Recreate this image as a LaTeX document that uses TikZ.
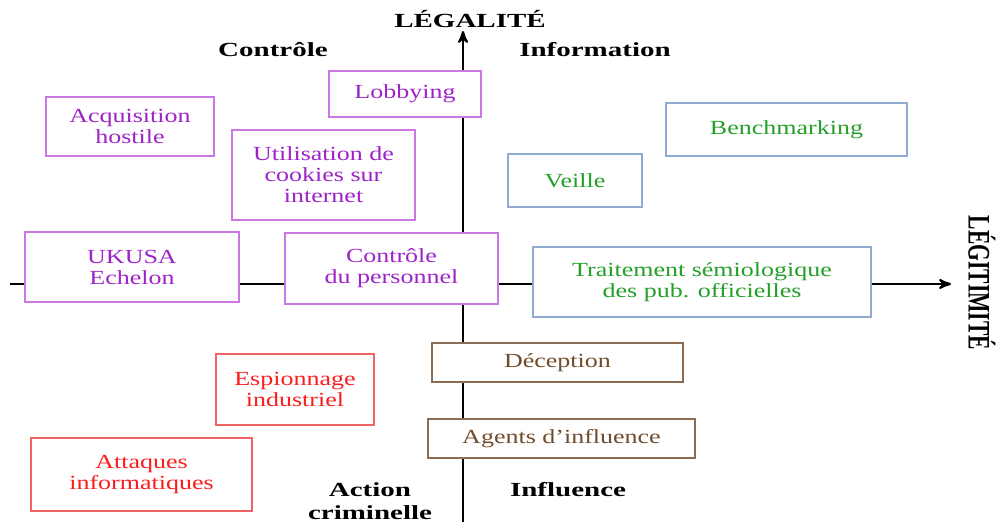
\documentclass[tikz,border=0pt]{standalone}
\usepackage{fontspec}
\usepackage{graphicx}
\usepackage{tikz}
\usetikzlibrary{positioning}
\usetikzlibrary{arrows}

\newfontfamily\cellfamily{Liberation Serif}[FakeStretch=1.3]
\newfontfamily\titlefamily{Liberation Serif}[FakeStretch=1.45]
\newfontfamily\plainfamily{Liberation Serif}
\newcommand{\cellfont}{\cellfamily\fontsize{10}{10.5}\selectfont}
\newcommand{\titlefont}{\titlefamily\bfseries\fontsize{10}{11.5}\selectfont}

\definecolor{ctrltext}{RGB}{158,36,200}
\definecolor{ctrlline}{RGB}{204,120,228}
\definecolor{infotext}{RGB}{36,160,40}
\definecolor{infoline}{RGB}{145,170,210}
\definecolor{crimetext}{RGB}{250,30,30}
\definecolor{crimeline}{RGB}{240,100,100}
\definecolor{influtext}{RGB}{112,76,44}
\definecolor{influline}{RGB}{140,108,82}

\begin{document}
\begin{tikzpicture} [->, >=stealth', x=0.5pt, y=-0.5pt,
            align=center]

            \tikzstyle{cell} = [rectangle, draw, fill=white, line width=0.7pt,
                                inner sep=0pt, font=\cellfont]
            \tikzstyle{control} = [cell, draw=ctrlline, text=ctrltext]
            \tikzstyle{information} = [cell, draw=infoline, text=infotext]
            \tikzstyle{crime} = [cell, draw=crimeline, text=crimetext]
            \tikzstyle{influence} = [cell, draw=influline, text=influtext]
            \tikzstyle{quadrant} = [font=\titlefont, anchor=base]

            \useasboundingbox (0, 0) rectangle (996, 522);

            \coordinate (bottom) at(463, 522);
            \coordinate (top) at(463, 31);
            \coordinate (left) at(10, 284);
            \coordinate (right) at(951, 284);

            \path[line width=1.1pt] (bottom) edge (top)
                (left) edge (right)
            ;

            \node[quadrant](legalite) at(470, 28) {LÉGALITÉ};
            \node[rotate=-90, font=\plainfamily\bfseries\fontsize{10.8}{12}\selectfont]
                (legitimite) at(982, 283) {\scalebox{1}[1.45]{LÉGITIMITÉ}};

            \node[quadrant](controle) at(273, 57) {Contrôle};
            \node[quadrant](information) at(595, 57) {Information};
            \node[quadrant](action) at(370, 520) {Action\\criminelle};
            \node[quadrant](influence) at(568, 497) {Influence};

            \node[control, minimum width=84pt, minimum height=29.5pt]
                (acquisition) at(130, 126.5) {Acquisition\\hostile};
            \node[control, minimum width=76pt, minimum height=23pt]
                (lobbying) at(405, 94) {Lobbying};
            \node[control, minimum width=91.5pt, minimum height=45pt]
                (cookies) at(323.5, 175) {Utilisation de\\cookies sur\\internet};
            \node[control, minimum width=107pt, minimum height=35pt]
                (ukusa) at(132, 267) {UKUSA\\Echelon};
            \node[control, minimum width=106.5pt, minimum height=35.5pt]
                (personnel) at(391.5, 268.5) {Contrôle\\du personnel};

            \node[information, minimum width=120.5pt, minimum height=26.5pt]
                (benchmarking) at(786.5, 129.5) {Benchmarking};
            \node[information, minimum width=67pt, minimum height=26.5pt]
                (veille) at(575, 180.5) {Veille};
            \node[information, minimum width=169pt, minimum height=35pt]
                (semiologie) at(702, 282) {Traitement sémiologique\\des pub. officielles};

            \node[influence, minimum width=125.5pt, minimum height=19.5pt]
                (deception) at(557.5, 362.5) {Déception};
            \node[influence, minimum width=133.5pt, minimum height=19.5pt]
                (agents) at(561.5, 438.5) {Agents d’influence};

            \node[crime, minimum width=79pt, minimum height=35.5pt]
                (espionnage) at(295, 389.5) {Espionnage\\industriel};
            \node[crime, minimum width=110.5pt, minimum height=36.5pt]
                (attaques) at(141.5, 474.5) {Attaques\\informatiques};
       \end{tikzpicture}
\end{document}
